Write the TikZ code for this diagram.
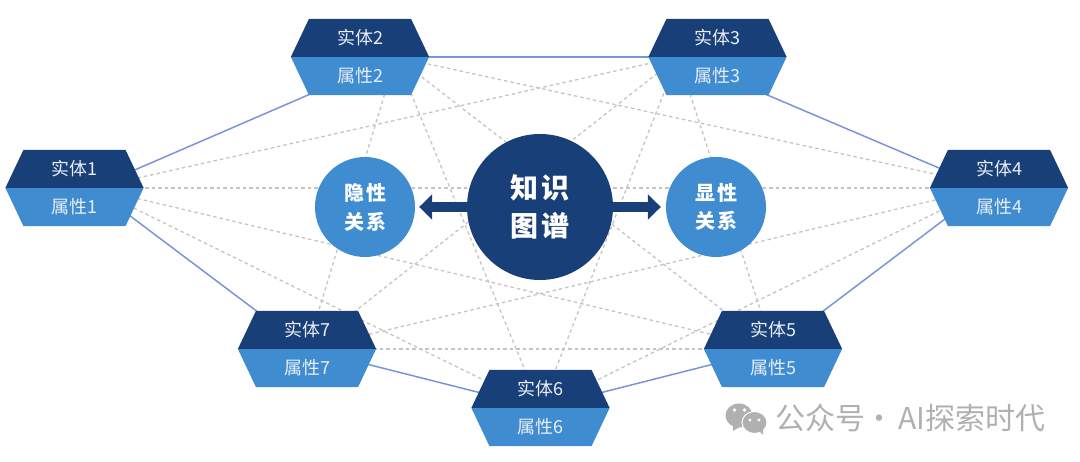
\documentclass[tikz,border=0pt]{standalone}
\usepackage{fontspec}
\newfontfamily\cjk{Noto Sans CJK SC}
\usepackage{xcolor}
\definecolor{marino}{RGB}{25, 63, 120}
\definecolor{celeste}{RGB}{64, 140, 208}
\definecolor{enlace}{RGB}{122, 148, 216}
\definecolor{oculto}{RGB}{196, 196, 196}
\definecolor{marca}{RGB}{176, 176, 176}
\definecolor{letra}{RGB}{232, 238, 246}
\usetikzlibrary{shapes.geometric, positioning, arrows.meta, backgrounds}
\tikzset{
    entidad/.style={trapezium, trapezium stretches=true, trapezium left angle=64, trapezium right angle=64,
        minimum width=139pt, minimum height=38pt, inner sep=0pt, outer sep=0pt, fill=marino, text=letra,
        font=\cjk\fontsize{18}{20}\selectfont},
    atributo/.style={entidad, shape border rotate=180, fill=celeste},
    relacion/.style={circle, minimum size=100pt, inner sep=0pt, fill=celeste, text=white, align=center,
        font=\cjk\bfseries\fontsize{20}{29}\selectfont},
    enlacev/.style={enlace, line width=1.5pt},
    ocultov/.style={oculto, line width=1.3pt, dash pattern=on 3.5pt off 3pt},
    flecha/.style={marino, line width=10pt, -{Triangle[length=13pt,width=25pt]}}
}
\begin{document}
\begin{tikzpicture}[x=1pt, y=-1pt]
        \useasboundingbox (0,0) rectangle (1080,462);
        \node[entidad] (e1) at (74.5,169) {实体1};
        \node[atributo, below=0pt of e1] (a1) {属性1};
        \node[entidad] (e2) at (360,38) {实体2};
        \node[atributo, below=0pt of e2] (a2) {属性2};
        \node[entidad] (e3) at (717.5,38) {实体3};
        \node[atributo, below=0pt of e3] (a3) {属性3};
        \node[entidad] (e4) at (999,169) {实体4};
        \node[atributo, below=0pt of e4] (a4) {属性4};
        \node[entidad] (e5) at (773,330) {实体5};
        \node[atributo, below=0pt of e5] (a5) {属性5};
        \node[entidad] (e6) at (540.5,389) {实体6};
        \node[atributo, below=0pt of e6] (a6) {属性6};
        \node[entidad] (e7) at (307,330) {实体7};
        \node[atributo, below=0pt of e7] (a7) {属性7};
        \node[circle, minimum size=146pt, inner sep=0pt, fill=marino, text=white, align=center, font=\cjk\bfseries\fontsize{28}{38}\selectfont] (grafo) at (540,207) {知\hspace{4pt}识\\图\hspace{4pt}谱};
        \node[relacion] (oculta) at (365,207) {隐\hspace{2pt}性\\关\hspace{2pt}系};
        \node[relacion] (explicita) at (716,207) {\raisebox{2pt}{显\hspace{2pt}性}\\\raisebox{3pt}{关\hspace{2pt}系}};
        \begin{scope}[on background layer]
            \draw[ocultov] ([xshift=18.5pt]e1.south) -- (e4.south);
            \draw[ocultov] ([xshift=18.5pt]e1.south) -- ([xshift=-39.5pt]e3.south);
            \draw[ocultov] ([xshift=18.5pt]e1.south) -- (e5.south);
            \draw[ocultov] ([xshift=18.5pt]e1.south) -- (e6.south);
            \draw[ocultov] ([xshift=36pt]e2.south) -- (e4.south);
            \draw[ocultov] ([xshift=36pt]e2.south) -- (e5.south);
            \draw[ocultov] ([xshift=36pt]e2.south) -- (e6.south);
            \draw[ocultov] ([xshift=36pt]e2.south) -- (e7.south);
            \draw[ocultov] ([xshift=-39.5pt]e3.south) -- (e5.south);
            \draw[ocultov] ([xshift=-39.5pt]e3.south) -- (e6.south);
            \draw[ocultov] ([xshift=-39.5pt]e3.south) -- (e7.south);
            \draw[ocultov] ([xshift=-13pt]e4.south) -- (e6.south);
            \draw[ocultov] ([xshift=-13pt]e4.south) -- (e7.south);
            \draw[ocultov] (e5.south) -- (e7.south);
            \draw[enlacev] ([xshift=18.5pt]e1.south) -- ([xshift=36pt]e2.south);
            \draw[enlacev] ([xshift=36pt]e2.south) -- ([xshift=-39.5pt]e3.south);
            \draw[enlacev] ([xshift=-39.5pt]e3.south) -- ([xshift=-13pt]e4.south);
            \draw[enlacev] ([xshift=-13pt]e4.south) -- (e5.south);
            \draw[enlacev] (e5.south) -- (e6.south);
            \draw[enlacev] (e6.south) -- (e7.south);
            \draw[enlacev] (e7.south) -- ([xshift=18.5pt]e1.south);
        \end{scope}
        \draw[flecha, shorten >=4pt] (grafo) -- (oculta);
        \draw[flecha, shorten >=5pt] (grafo) -- (explicita);
        \fill[marca] (739,415.5) ellipse (13.5pt and 12pt);
        \fill[marca] (733,424) -- (733,431) -- (741,426) -- cycle;
        \fill[marca, draw=white, line width=1pt] (754.5,422.5) ellipse (12.5pt and 11pt);
        \fill[marca] (758,430) -- (763,435) -- (763,428) -- cycle;
        \fill[white] (734.5,410) circle (1.8pt) (744.5,410) circle (1.8pt) (750,420) circle (1.6pt) (759,420) circle (1.6pt);
        \node[text=marca, font=\cjk\fontsize{30}{32}\selectfont, anchor=west, inner sep=0pt] (firma) at (775,418) {公众号\hspace{-1pt}·\hspace{4pt}AI探索时代};
    \end{tikzpicture}
\end{document}
